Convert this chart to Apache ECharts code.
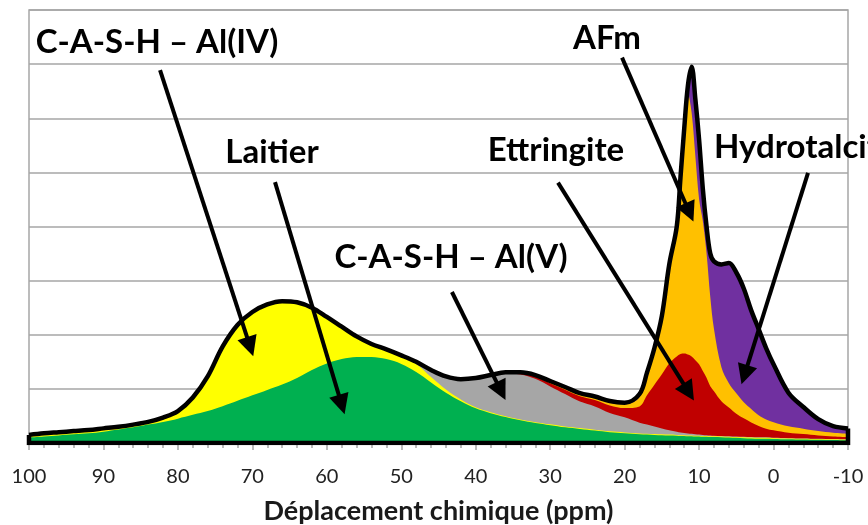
<!DOCTYPE html>
<html>
<head>
<meta charset="utf-8">
<script src="https://cdn.jsdelivr.net/npm/echarts@6/dist/echarts.min.js"></script>
<style>
  html, body { margin: 0; padding: 0; background: #fff; }
  #main { width: 868px; height: 525px; }
</style>
</head>
<body>
<div id="main"></div>
<script>
// chemical shift (ppm), shared by every component
const shifts = [100, 98, 96, 94, 92, 90, 88, 86, 84, 82, 80, 78, 76, 74, 72, 70, 68, 66, 64, 62,
  60, 58, 56, 54, 52, 50, 48, 46, 44, 42, 40, 38, 36, 34, 32, 30, 28, 26, 24, 22,
  20, 18, 17, 16, 15, 14, 13, 12.5, 12, 11.5, 11, 10.5, 10, 9.5, 9, 8.5, 8, 7, 6, 5,
  4, 3, 2, 1, 0, -2, -4, -6, -8, -10];

// deconvoluted components (stacked, bottom to top)
const laitier = [0.10, 0.12, 0.14, 0.16, 0.18, 0.21, 0.25, 0.29, 0.34, 0.39, 0.45, 0.52, 0.59, 0.68, 0.78, 0.88, 0.98, 1.08, 1.20, 1.35,
  1.47, 1.55, 1.59, 1.59, 1.55, 1.46, 1.31, 1.12, 0.93, 0.77, 0.64, 0.55, 0.48, 0.42, 0.37, 0.33, 0.29, 0.26, 0.23, 0.20,
  0.18, 0.16, 0.155, 0.15, 0.145, 0.14, 0.135, 0.13, 0.13, 0.125, 0.125, 0.12, 0.12, 0.115, 0.115, 0.11, 0.11, 0.105, 0.10, 0.095,
  0.09, 0.085, 0.08, 0.08, 0.075, 0.07, 0.065, 0.06, 0.055, 0.05];
const cashAlIV = [0.05, 0.06, 0.06, 0.06, 0.06, 0.06, 0.05, 0.05, 0.05, 0.08, 0.14, 0.32, 0.64, 1.10, 1.40, 1.54, 1.58, 1.54, 1.40, 1.15,
  0.86, 0.60, 0.38, 0.24, 0.18, 0.16, 0.15, 0.10, 0.06, 0.035, 0.02, 0.02, 0.015, 0.015, 0.015, 0.015, 0.015, 0.015, 0.015, 0.015,
  0.015, 0.015, 0.015, 0.015, 0.015, 0.015, 0.015, 0.015, 0.015, 0.015, 0.015, 0.015, 0.015, 0.015, 0.015, 0.015, 0.015, 0.015, 0.015, 0.015,
  0.015, 0.015, 0.015, 0.015, 0.015, 0.015, 0.015, 0.015, 0.015, 0.015];
const cashAlV = [0, 0, 0, 0, 0, 0, 0, 0, 0, 0, 0, 0, 0, 0, 0, 0, 0, 0, 0, 0,
  0, 0, 0, 0, 0, 0, 0.04, 0.13, 0.24, 0.375, 0.54, 0.68, 0.79, 0.83, 0.80, 0.70, 0.60, 0.49, 0.43, 0.34,
  0.28, 0.20, 0.17, 0.14, 0.11, 0.08, 0.06, 0.05, 0.04, 0.035, 0.03, 0.025, 0.02, 0.02, 0.015, 0.015, 0.01, 0.01, 0.01, 0.01,
  0.01, 0.01, 0.01, 0.01, 0.005, 0.005, 0.005, 0.005, 0.005, 0.005];
const ettringite = [0, 0, 0, 0, 0, 0, 0, 0, 0, 0, 0, 0, 0, 0, 0, 0, 0, 0, 0, 0,
  0, 0, 0, 0, 0, 0, 0, 0, 0, 0, 0, 0.005, 0.01, 0.02, 0.04, 0.06, 0.08, 0.10, 0.12, 0.14,
  0.17, 0.30, 0.54, 0.77, 1.00, 1.24, 1.39, 1.45, 1.47, 1.46, 1.43, 1.37, 1.30, 1.18, 1.06, 0.91, 0.82, 0.64, 0.53, 0.42,
  0.34, 0.27, 0.21, 0.16, 0.14, 0.10, 0.08, 0.06, 0.045, 0.04];
const afm = [0, 0, 0, 0, 0, 0, 0, 0, 0, 0, 0, 0, 0, 0, 0, 0, 0, 0, 0, 0,
  0, 0, 0, 0, 0, 0, 0, 0, 0, 0, 0, 0, 0.005, 0.01, 0.015, 0.02, 0.03, 0.03, 0.04, 0.05,
  0.07, 0.17, 0.37, 0.63, 1.03, 1.79, 2.36, 3.21, 4.09, 4.82, 4.50, 3.77, 3.05, 2.77, 2.30, 1.65, 1.15, 0.63, 0.45, 0.38,
  0.30, 0.25, 0.20, 0.17, 0.15, 0.12, 0.10, 0.08, 0.07, 0.06];
const hydrotalcite = [0, 0, 0, 0, 0, 0, 0, 0, 0, 0, 0, 0, 0, 0, 0, 0, 0, 0, 0, 0,
  0, 0, 0, 0, 0, 0, 0, 0, 0, 0, 0, 0, 0.005, 0.01, 0.015, 0.02, 0.02, 0.025, 0.025, 0.03,
  0.03, 0.06, 0.05, 0.05, 0.05, 0.04, 0.04, 0.05, 0.06, 0.15, 0.85, 1.05, 1.10, 0.60, 0.50, 0.80, 1.25, 1.90, 2.22, 2.23,
  2.10, 1.82, 1.59, 1.32, 1.07, 0.62, 0.40, 0.22, 0.12, 0.10];

const xTicks = { min: -10, max: 100, step: 10 };

// annotation arrows: [from ppm, from y, to ppm, to y]
const arrows = [
  [82.4, 6.89, 70.3, 1.78],
  [66.96, 4.82, 58.0, 0.71],
  [43.2, 2.79, 36.6, 0.96],
  [28.95, 4.81, 11.4, 0.94],
  [20.35, 7.12, 11.3, 4.26],
  [-4.63, 4.99, 3.9, 1.26]
];

const components = [
  { name: 'Laitier', data: laitier, color: '#00b050' },
  { name: 'C-A-S-H – Al(IV)', data: cashAlIV, color: '#ffff00' },
  { name: 'C-A-S-H – Al(V)', data: cashAlV, color: '#a6a6a6' },
  { name: 'Ettringite', data: ettringite, color: '#c00000' },
  { name: 'AFm', data: afm, color: '#ffc000' },
  { name: 'Hydrotalcite', data: hydrotalcite, color: '#7030a0' }
];

// running sums, so each layer is filled from the baseline up to its cumulative top
const cumulative = [];
components.forEach((c, k) => {
  cumulative.push(c.data.map((v, i) => v + (k ? cumulative[k - 1][i] : 0)));
});
const total = cumulative[cumulative.length - 1];
const SMOOTH = 0.35;

const chart = echarts.init(document.getElementById('main'));

// topmost layer first so the lower layers are painted over it
const series = components.map((c, k) => ({
  name: c.name,
  type: 'line',
  smooth: SMOOTH,
  showSymbol: false,
  z: 2,
  lineStyle: { width: 0 },
  areaStyle: { color: c.color, opacity: 1, origin: 'start' },
  data: shifts.map((x, i) => [x, cumulative[k][i]])
})).reverse();

series.push({
  name: 'Spectre',
  type: 'line',
  smooth: SMOOTH,
  showSymbol: false,
  z: 5,
  lineStyle: { color: '#000', width: 4.5, join: 'round' },
  data: shifts.map((x, i) => [x, total[i]]),
  markLine: {
    silent: true,
    symbol: ['none', 'path://M5,0L10,16L0,16Z'],
    symbolSize: 20,
    label: { show: false },
    lineStyle: { color: '#000', width: 4, type: 'solid' },
    data: arrows.map((a) => [{ coord: [a[0], a[1]] }, { coord: [a[2], a[3]] }])
  }
});

series.push({
  name: 'Cadre',
  type: 'line',
  showSymbol: false,
  z: 5,
  lineStyle: { color: '#000', width: 4.5, join: 'miter' },
  data: [
    [shifts[0], total[0]], [shifts[0], 0],
    [shifts[shifts.length - 1], 0], [shifts[shifts.length - 1], total[total.length - 1]]
  ]
});

const labelFont = 'bold 33px Lato';
const notes = [
  { text: 'C-A-S-H – Al(IV)', x: 157, y: 42, align: 'center' },
  { text: 'Laitier', x: 272, y: 152, align: 'center' },
  { text: 'C-A-S-H – Al(V)', x: 451, y: 257, align: 'center' },
  { text: 'Ettringite', x: 556, y: 150, align: 'center' },
  { text: 'AFm', x: 607, y: 38, align: 'center' },
  { text: 'Hydrotalcite', x: 714, y: 147, align: 'left' }
];

chart.setOption({
  animation: false,
  grid: {
    left: 29, right: 20, top: 10, bottom: 82,
    outerBoundsMode: 'none',
    show: true, borderColor: '#a6a6a6', borderWidth: 1.5
  },
  xAxis: {
    type: 'value',
    inverse: true,
    min: xTicks.min,
    max: xTicks.max,
    interval: xTicks.step,
    name: 'Déplacement chimique (ppm)',
    nameLocation: 'middle',
    nameGap: 55,
    nameTextStyle: { fontFamily: 'Lato', fontWeight: 'bold', fontSize: 27, color: '#1a1a1a' },
    axisLine: { lineStyle: { color: '#a6a6a6', width: 1.5 } },
    axisTick: { length: 7, lineStyle: { color: '#a6a6a6', width: 1.5 } },
    minorTick: { show: true, splitNumber: 5, length: 5, lineStyle: { color: '#a6a6a6', width: 1.5 } },
    axisLabel: { fontFamily: 'Lato', fontSize: 20, color: '#222', margin: 24 },
    splitLine: { show: false }
  },
  yAxis: {
    type: 'value',
    min: 0,
    max: 8,
    interval: 1,
    axisLabel: { show: false },
    axisLine: { show: false },
    axisTick: { show: false },
    splitLine: { lineStyle: { color: '#a6a6a6', width: 1.5 } }
  },
  graphic: notes.map((n) => ({
    type: 'text',
    x: n.x,
    y: n.y,
    z: 10,
    style: { text: n.text, font: labelFont, fill: '#000', align: n.align, verticalAlign: 'middle' }
  })),
  series: series
});
</script>
</body>
</html>
